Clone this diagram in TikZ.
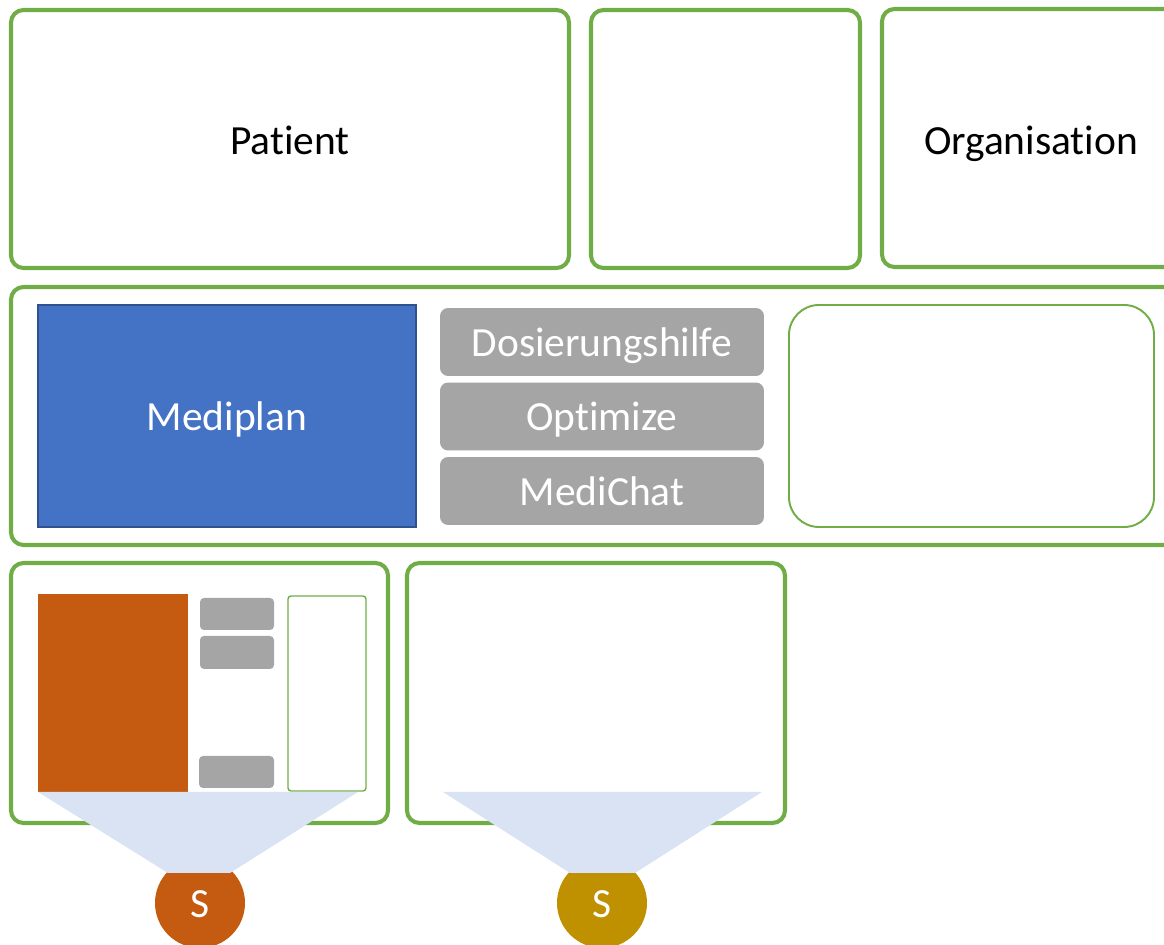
\documentclass[tikz,border=0pt]{standalone}
\usepackage{fontspec}
\setmainfont{Carlito}[Ligatures=NoCommon]
\definecolor{frameGreen}{HTML}{70AD47}
\definecolor{planBlue}{HTML}{4472C4}
\definecolor{planEdge}{HTML}{2F528F}
\definecolor{toolGray}{HTML}{A5A5A5}
\definecolor{planOrange}{HTML}{C55A11}
\definecolor{srcGold}{HTML}{BF9000}
\definecolor{funnelBlue}{HTML}{DAE3F3}

\begin{document}
\begin{tikzpicture}[x=0.02cm, y=-0.02cm,
		frame/.style={draw=frameGreen, line width=2.3pt, rounded corners=0.25cm},
		thinframe/.style={draw=frameGreen, line width=1.1pt},
		txt/.style={font=\fontsize{23.6}{28}\selectfont, inner sep=0pt, text height=22.3pt, text depth=6.3pt},
		tool/.style={txt, fill=toolGray, rounded corners=0.16cm, text=white,
			minimum width=6.48cm, minimum height=1.36cm},
		minitool/.style={fill=toolGray, rounded corners=0.08cm},
		funnel/.style={fill=funnelBlue},
		source/.style={txt, circle, minimum size=1.8cm, text=white}]

	\clip (0,0) rectangle (1164,945);

	% top row
	\draw[frame] (11,10) rectangle (569,268);
	\node[txt] (patient) at (290,140) {Patient};
	\draw[frame] (591,10) rectangle (860,268);
	\draw[frame] (882,9) rectangle (1190,267);
	\node[txt] (orga) at (1031,140) {Organisation};

	% middle row
	\draw[frame] (11,287) rectangle (1190,545);
	\node[txt, fill=planBlue, draw=planEdge, line width=1pt, text=white,
		minimum width=7.56cm, minimum height=4.44cm] (mediplan) at (227,416) {Mediplan};
	\node[tool] (dosis) at (602,342) {Dosierungshilfe};
	\node[tool] (optimize) at (602,416.5) {Optimize};
	\node[tool] (medichat) at (602,491) {MediChat};
	\draw[thinframe, rounded corners=0.6cm] (789,305) rectangle (1154,527);

	% bottom row
	\draw[frame] (11,563) rectangle (388,823);
	\fill[planOrange] (38,594) rectangle (188,792);
	\fill[minitool] (200,598) rectangle (274,630);
	\fill[minitool] (200,636) rectangle (274,669);
	\fill[minitool] (199,756) rectangle (274,788);
	\draw[thinframe, line width=0.8pt, rounded corners=0.06cm] (288,596) rectangle (366,791);
	\draw[frame] (407,563) rectangle (785,823);

	% sources
	\node[source, fill=planOrange] (srcA) at (200,903) {S};
	\node[source, fill=srcGold] (srcB) at (602,903) {S};

	\fill[funnel] (38,792) -- (358,792) -- (230,873) -- (168,873) -- cycle;
	\fill[funnel] (443,792) -- (762,792) -- (635,873) -- (570,873) -- cycle;
\end{tikzpicture}
\end{document}
